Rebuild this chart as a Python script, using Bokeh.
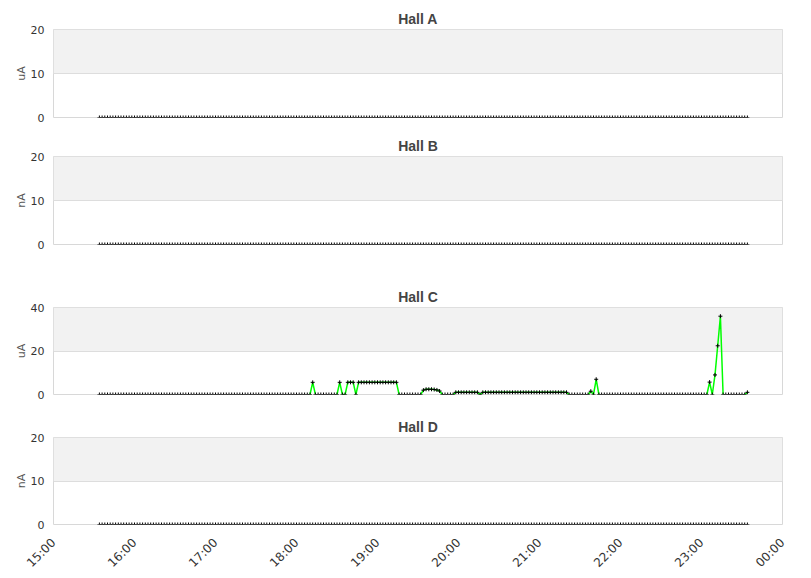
import math
import numpy as np
from bokeh.plotting import figure
from bokeh.layouts import column
from bokeh.models import FixedTicker, BoxAnnotation
from bokeh.embed import file_html
from bokeh.resources import INLINE

# ---- data -------------------------------------------------------------
# samples every 2 minutes from 15:34 to 23:34
start_hour = 15 + 34 / 60
step_hours = 2 / 60
n_points = 241

x_ticks = [15, 16, 17, 18, 19, 20, 21, 22, 23, 24]
x_tick_labels = ["15:00", "16:00", "17:00", "18:00", "19:00", "20:00",
                 "21:00", "22:00", "23:00", "00:00"]

hall_titles = ["Hall A", "Hall B", "Hall C", "Hall D"]
hall_units = ["uA", "nA", "uA", "nA"]
hall_ymax = [20, 20, 40, 20]

hall_a = [0] * n_points
hall_b = [0] * n_points
hall_d = [0] * n_points
hall_c = [
    0, 0, 0, 0, 0, 0, 0, 0, 0, 0, 0, 0, 0, 0, 0, 0, 0, 0, 0, 0,
    0, 0, 0, 0, 0, 0, 0, 0, 0, 0, 0, 0, 0, 0, 0, 0, 0, 0, 0, 0,
    0, 0, 0, 0, 0, 0, 0, 0, 0, 0, 0, 0, 0, 0, 0, 0, 0, 0, 0, 0,
    0, 0, 0, 0, 0, 0, 0, 0, 0, 0, 0, 0, 0, 0, 0, 0, 0, 0, 0, 5.6,
    0, 0, 0, 0, 0, 0, 0, 0, 0, 5.6, 0, 0, 5.6, 5.6, 5.6, 0, 5.6, 5.6, 5.6, 5.6,
    5.6, 5.6, 5.6, 5.6, 5.6, 5.6, 5.6, 5.6, 5.6, 5.6, 5.6, 0, 0, 0, 0, 0, 0, 0, 0, 0,
    2.0, 2.4, 2.4, 2.4, 2.3, 2.1, 1.6, 0, 0, 0, 0, 0, 1.0, 1.0, 1.0, 1.0, 1.0, 1.0, 1.0, 1.0,
    1.0, 0, 1.0, 1.0, 1.0, 1.0, 1.0, 1.0, 1.0, 1.0, 1.0, 1.0, 1.0, 1.0, 1.0, 1.0, 1.0, 1.0, 1.0, 1.0,
    1.0, 1.0, 1.0, 1.0, 1.0, 1.0, 1.0, 1.0, 1.0, 1.0, 1.0, 1.0, 1.0, 1.0, 0, 0, 0, 0, 0, 0,
    0, 0, 1.5, 0, 7.0, 0, 0, 0, 0, 0, 0, 0, 0, 0, 0, 0, 0, 0, 0, 0,
    0, 0, 0, 0, 0, 0, 0, 0, 0, 0, 0, 0, 0, 0, 0, 0, 0, 0, 0, 0,
    0, 0, 0, 0, 0, 0, 5.7, 0, 9.0, 22.4, 36.0, 0, 0, 0, 0, 0, 0, 0, 0, 0,
    1.0,
]
hall_values = [hall_a, hall_b, hall_c, hall_d]

# ---- layout -----------------------------------------------------------
FRAME_W = 729
LEFT = 53
RIGHT = 20
tops = [29, 24, 24, 24]
frame_heights = [88, 88, 87, 87]
bottoms = [15, 39, 19, 53]

TICK_FONT = "DejaVu Sans"
TITLE_FONT = "Liberation Sans"

hours = start_hour + np.arange(n_points) * step_hours


def make_panel(i):
    vals = np.array(hall_values[i], dtype=float)
    ymax = hall_ymax[i]
    show_x = (i == 3)
    h = tops[i] + frame_heights[i] + bottoms[i]
    p = figure(width=LEFT + FRAME_W + RIGHT, height=h,
               x_range=(15, 24), y_range=(0, ymax),
               output_backend="svg", toolbar_location=None,
               min_border_left=LEFT, min_border_right=RIGHT,
               min_border_top=tops[i], min_border_bottom=bottoms[i],
               title=hall_titles[i])
    p.title.align = "center"
    p.title.text_font = TITLE_FONT
    p.title.text_font_size = "14px"
    p.title.text_font_style = "bold"
    p.title.text_color = "#444444"
    p.title.standoff = 6
    p.title.offset = 0

    p.outline_line_color = "#d8d8d8"
    p.outline_line_width = 1
    p.background_fill_color = "white"
    p.border_fill_color = "white"

    band = BoxAnnotation(bottom=ymax / 2, top=ymax, fill_color="#f2f2f2",
                         fill_alpha=1, line_color=None, level="image")
    p.add_layout(band)

    p.xgrid.visible = False
    p.ygrid.grid_line_color = "#dddddd"
    p.ygrid.ticker = FixedTicker(ticks=[0, ymax / 2, ymax])

    yax = p.yaxis[0]
    yax.ticker = FixedTicker(ticks=[0, ymax / 2, ymax])
    yax.axis_line_color = None
    yax.major_tick_line_color = None
    yax.minor_tick_line_color = None
    yax.major_tick_in = 0
    yax.major_tick_out = 0
    yax.major_label_standoff = 9
    yax.major_label_text_font = TICK_FONT
    yax.major_label_text_font_size = "11px"
    yax.major_label_text_color = "#333333"
    yax.axis_label = hall_units[i]
    yax.axis_label_text_font = TICK_FONT
    yax.axis_label_text_font_size = "11px"
    yax.axis_label_text_font_style = "normal"
    yax.axis_label_text_color = "#555555"
    yax.axis_label_standoff = 0

    xax = p.xaxis[0]
    if show_x:
        xax.ticker = FixedTicker(ticks=x_ticks)
        xax.major_label_overrides = {t: l for t, l in zip(x_ticks, x_tick_labels)}
        xax.major_label_orientation = math.pi / 4
        xax.axis_line_color = None
        xax.major_tick_line_color = None
        xax.minor_tick_line_color = None
        xax.major_tick_in = 0
        xax.major_tick_out = 0
        xax.major_label_standoff = 16
        xax.major_label_text_font = TICK_FONT
        xax.major_label_text_font_size = "12px"
        xax.major_label_text_color = "#333333"
    else:
        xax.visible = False

    # line only where a segment touches a non-zero value
    nz = vals != 0
    keep = nz.copy()
    keep[1:] |= nz[:-1]
    keep[:-1] |= nz[1:]
    line_y = np.where(keep, vals, np.nan)
    if keep.any():
        p.line(hours, line_y, line_color="#00ff00", line_width=1.5)
    p.scatter(hours, vals, marker="cross", size=4, line_color="black",
              line_width=1)
    return p


panels = [make_panel(i) for i in range(4)]
layout = column(*panels, spacing=0)

open("out.html", "w").write(file_html(layout, INLINE))
